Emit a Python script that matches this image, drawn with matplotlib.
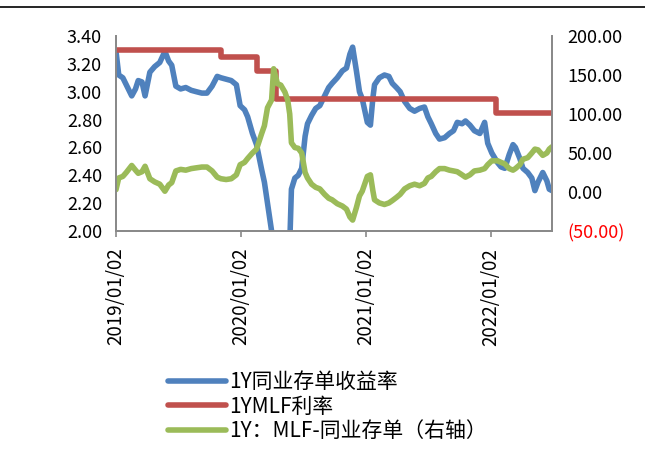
import matplotlib
matplotlib.use('Agg')
import matplotlib.pyplot as plt
from matplotlib.lines import Line2D
import pandas as pd

# fonts: CJK first, DejaVu as fallback
plt.rcParams['font.family'] = ['Noto Sans CJK SC', 'DejaVu Sans']

# ---- data ----
dates = ['2019-01-02', '2019-01-10', '2019-01-22', '2019-02-01', '2019-02-17', '2019-02-28',
         '2019-03-08', '2019-03-19', '2019-03-28', '2019-04-11', '2019-04-25', '2019-05-10',
         '2019-05-25', '2019-06-05', '2019-06-14', '2019-06-26', '2019-07-10', '2019-07-25',
         '2019-08-10', '2019-08-25', '2019-09-10', '2019-09-25', '2019-10-10', '2019-10-25',
         '2019-11-05', '2019-11-20', '2019-12-05', '2019-12-20', '2019-12-31',
         '2020-01-13', '2020-01-22', '2020-02-05', '2020-02-17', '2020-03-03', '2020-03-11',
         '2020-03-20', '2020-04-01', '2020-04-07', '2020-04-18', '2020-04-28', '2020-05-10',
         '2020-05-18', '2020-05-24', '2020-05-29', '2020-06-08', '2020-06-18', '2020-06-28',
         '2020-07-08', '2020-07-15', '2020-07-27', '2020-08-08', '2020-08-20', '2020-09-03',
         '2020-09-15', '2020-09-25', '2020-10-10', '2020-10-25', '2020-11-06', '2020-11-16',
         '2020-11-24', '2020-12-05', '2020-12-14', '2020-12-22',
         '2021-01-06', '2021-01-15', '2021-01-22', '2021-01-27', '2021-02-10', '2021-02-25',
         '2021-03-10', '2021-03-20', '2021-04-01', '2021-04-12', '2021-04-25', '2021-05-10',
         '2021-05-24', '2021-06-08', '2021-06-22', '2021-07-02', '2021-07-12', '2021-07-25',
         '2021-08-05', '2021-08-20', '2021-09-03', '2021-09-15', '2021-09-26', '2021-10-10',
         '2021-10-20', '2021-11-02', '2021-11-15', '2021-12-01', '2021-12-15', '2021-12-24',
         '2022-01-05', '2022-01-22', '2022-02-01', '2022-02-12', '2022-02-25', '2022-03-08',
         '2022-03-15', '2022-03-28', '2022-04-06', '2022-04-20', '2022-05-02', '2022-05-11',
         '2022-05-20', '2022-06-03', '2022-06-15', '2022-06-22', '2022-06-30']

ncd_1y = [3.29, 3.12, 3.10, 3.05, 2.97, 3.02,
          3.08, 3.07, 2.97, 3.14, 3.18, 3.21,
          3.29, 3.22, 3.19, 3.04, 3.02, 3.03,
          3.01, 3.00, 2.99, 2.99, 3.04, 3.11,
          3.10, 3.09, 3.08, 3.05, 2.90,
          2.87, 2.82, 2.70, 2.62, 2.44, 2.35,
          2.20, 2.00, 1.57, 1.56, 1.58, 1.65,
          1.75, 1.90, 2.30, 2.38, 2.40, 2.45,
          2.68, 2.77, 2.83, 2.88, 2.90, 2.97,
          3.03, 3.06, 3.10, 3.15, 3.17, 3.27,
          3.32, 3.15, 3.00, 2.95,
          2.78, 2.76, 2.95, 3.05, 3.10, 3.12,
          3.11, 3.06, 3.03, 3.00, 2.93, 2.88,
          2.86, 2.88, 2.89, 2.82, 2.77, 2.70,
          2.66, 2.67, 2.70, 2.72, 2.78, 2.77,
          2.79, 2.76, 2.72, 2.70, 2.78, 2.63,
          2.56, 2.49, 2.46, 2.45, 2.55, 2.62,
          2.60, 2.52, 2.45, 2.42, 2.38, 2.29,
          2.35, 2.42, 2.36, 2.30, 2.29]

spread_bp = [3, 18, 20, 25, 34, 28,
             24, 26, 33, 17, 13, 10,
             1, 9, 12, 27, 29, 28,
             30, 31, 32, 32, 27, 19,
             17, 16, 17, 22, 35,
             38, 43, 50, 55, 75, 85,
             108, 118, 158, 139, 137, 128,
             118, 100, 63, 57, 56, 50,
             25, 18, 10, 6, 4, -3,
             -8, -10, -15, -18, -22, -32,
             -36, -20, -5, 1,
             20, 22, 2, -10, -14, -16,
             -14, -11, -7, -3, 4, 8,
             10, 8, 11, 18, 20, 26,
             30, 30, 28, 27, 26, 22,
             19, 22, 27, 28, 30, 35,
             40, 40, 38, 36, 30, 28,
             30, 35, 42, 44, 50, 55,
             54, 47, 50, 55, 58]

mlf_dates = ['2019-01-02', '2019-11-05', '2020-02-17', '2020-04-15', '2022-01-17', '2022-06-30']
mlf_rates = [3.30, 3.25, 3.15, 2.95, 2.85, 2.85]

xtick_dates = ['2019-01-02', '2020-01-02', '2021-01-02', '2022-01-02']
left_ticks = [2.00, 2.20, 2.40, 2.60, 2.80, 3.00, 3.20, 3.40]
right_ticks = [-50, 0, 50, 100, 150, 200]

labels = ['1Y同业存单收益率', '1YMLF利率', '1Y：MLF-同业存单（右轴）']

# ---- colours ----
c_blue = '#4F81BD'
c_red = '#C0504D'
c_green = '#9BBB59'
c_axis = '#898989'

d = pd.to_datetime(dates)
md = pd.to_datetime(mlf_dates)

fig = plt.figure(figsize=(6.45, 4.55), dpi=100)
W, H = 645, 455
ax = fig.add_axes([116 / W, 1 - 231 / H, (552 - 116) / W, (231 - 36) / H])
ax2 = ax.twinx()

lw = 4.0
ax.plot(d, ncd_1y, color=c_blue, lw=lw, solid_joinstyle='round', solid_capstyle='round', zorder=2)
ax.plot(md, mlf_rates, color=c_red, lw=lw, drawstyle='steps-post', zorder=3)
ax2.plot(d, spread_bp, color=c_green, lw=lw, solid_joinstyle='round', solid_capstyle='round')

ax.set_xlim(pd.Timestamp('2019-01-02'), pd.Timestamp('2022-06-30'))
ax.set_ylim(2.0, 3.4)
ax2.set_ylim(-50, 200)

ax.set_yticks(left_ticks)
ax.set_yticklabels(['%.2f' % v for v in left_ticks])
ax2.set_yticks(right_ticks)
ax2.set_yticklabels([('(%.2f)' % -v) if v < 0 else ('%.2f' % v) for v in right_ticks])
for t, v in zip(ax2.get_yticklabels(), right_ticks):
    if v < 0:
        t.set_color('#FF0000')

xt = pd.to_datetime(xtick_dates)
ax.set_xticks(xt)
ax.set_xticklabels([x.strftime('%Y/%m/%d') for x in xt], rotation=90)

for a in (ax, ax2):
    a.spines['top'].set_visible(False)
    for s in ('left', 'right', 'bottom'):
        a.spines[s].set_color(c_axis)
        a.spines[s].set_linewidth(1.3)
ax.tick_params(axis='y', length=0, pad=10, labelsize=13)
ax2.tick_params(axis='y', length=0, pad=11, labelsize=13)
ax.tick_params(axis='x', length=4, width=1.2, color=c_axis, pad=8, labelsize=13.5)

# legend below the plot
handles = [Line2D([], [], color=c, lw=lw, solid_capstyle='round') for c in (c_blue, c_red, c_green)]
fig.legend(handles, labels, loc='upper left', bbox_to_anchor=(168 / W, 1 - 371 / H),
           frameon=False, fontsize=15, handlelength=2.8, handletextpad=0.12,
           labelspacing=0.12, borderpad=0, borderaxespad=0)

# top rule line
fig.add_artist(Line2D([0.0, 1.0], [1 - 7 / H, 1 - 7 / H], color='black', lw=1.2))

fig.savefig('out.png', dpi=100)
